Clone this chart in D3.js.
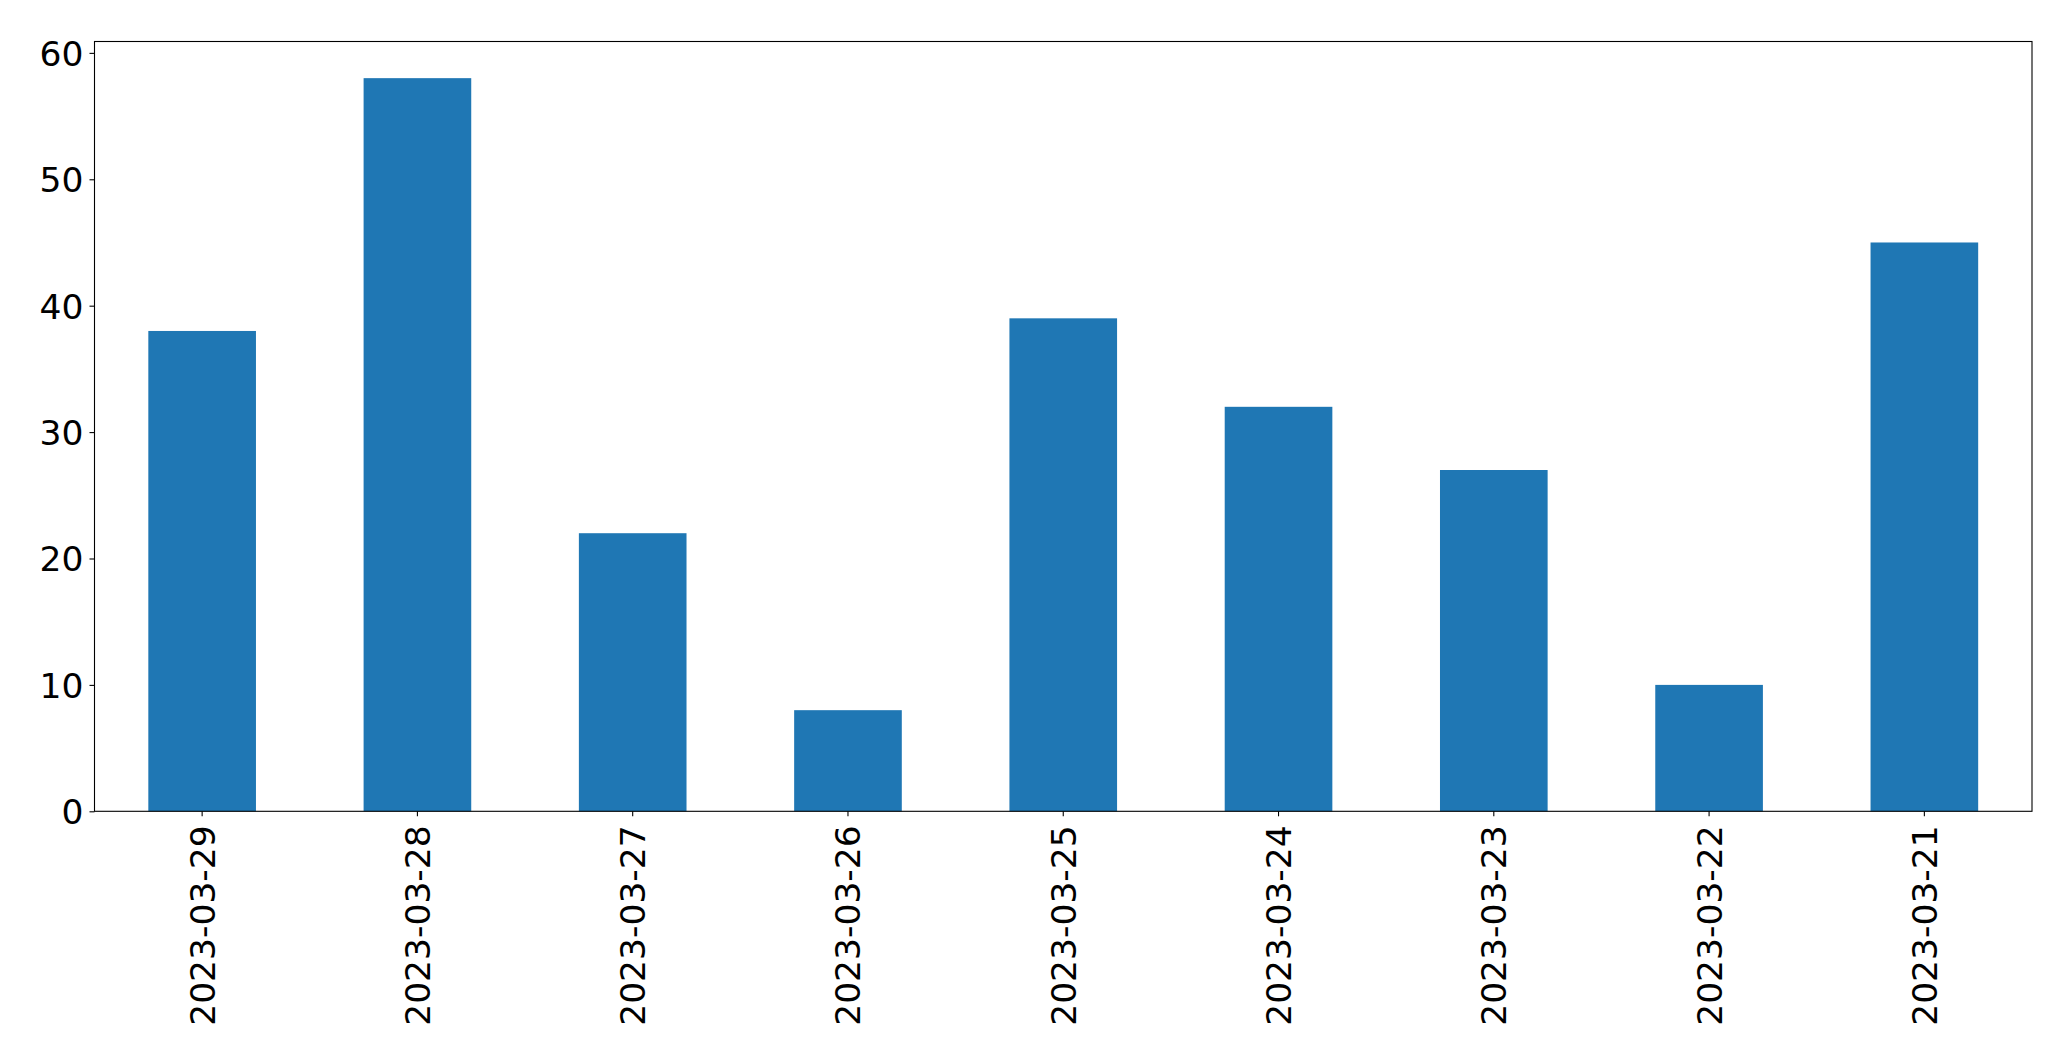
<!DOCTYPE html>
<html>
<head>
<meta charset="utf-8">
<script src="https://cdn.jsdelivr.net/npm/d3@7"></script>
<style>
  body { margin: 0; background: #fff; }
  svg { display: block; }
  text { font-family: "DejaVu Sans", sans-serif; fill: #000; }
</style>
</head>
<body>
<svg width="2071" height="1063"></svg>
<script>
// categories and values
const dates = ['2023-03-29', '2023-03-28', '2023-03-27', '2023-03-26', '2023-03-25',
  '2023-03-24', '2023-03-23', '2023-03-22', '2023-03-21'];
const counts = [38, 58, 22, 8, 39, 32, 27, 10, 45];
const yTicks = [0, 10, 20, 30, 40, 50, 60];

const svg = d3.select('svg');

const plotLeft = 94.5;
const plotRight = 2032;
const plotTop = 41.5;
const plotBottom = 811.3;

const xScale = d3.scaleBand()
  .range([plotLeft, plotRight])
  .domain(dates)
  .paddingInner(0.5)
  .paddingOuter(0.25);

const yScale = d3.scaleLinear()
  .range([plotBottom, plotTop])
  .domain([0, d3.max(counts) * 1.05]);

// bars
svg.append('g')
  .selectAll('rect')
  .data(dates)
  .enter()
  .append('rect')
  .attr('x', (d) => xScale(d))
  .attr('y', (d, i) => yScale(counts[i]))
  .attr('width', xScale.bandwidth())
  .attr('height', (d, i) => plotBottom - yScale(counts[i]))
  .attr('fill', '#1f77b4');

// y axis
const yAxis = svg.append('g')
  .attr('transform', `translate(${plotLeft}, 0)`)
  .call(d3.axisLeft(yScale).tickValues(yTicks).tickSize(5).tickPadding(6));
yAxis.select('.domain').remove();
yAxis.selectAll('line').attr('stroke', '#000').attr('stroke-width', 1.1);
yAxis.selectAll('text')
  .style('font-size', '34.5px')
  .attr('dy', '0.36em');

// x axis
const xAxis = svg.append('g')
  .attr('transform', `translate(0, ${plotBottom})`)
  .call(d3.axisBottom(xScale).tickSize(5).tickPadding(0));
xAxis.select('.domain').remove();
xAxis.selectAll('line').attr('stroke', '#000').attr('stroke-width', 1.1);
xAxis.selectAll('text')
  .style('font-size', '34.5px')
  .attr('text-anchor', 'end')
  .attr('y', 0)
  .attr('dy', '0.36em')
  .attr('transform', 'translate(0, 14) rotate(-90)');

// frame
svg.append('rect')
  .attr('x', plotLeft)
  .attr('y', plotTop)
  .attr('width', plotRight - plotLeft)
  .attr('height', plotBottom - plotTop)
  .attr('fill', 'none')
  .attr('stroke', '#000')
  .attr('stroke-width', 1.1);
</script>
</body>
</html>
